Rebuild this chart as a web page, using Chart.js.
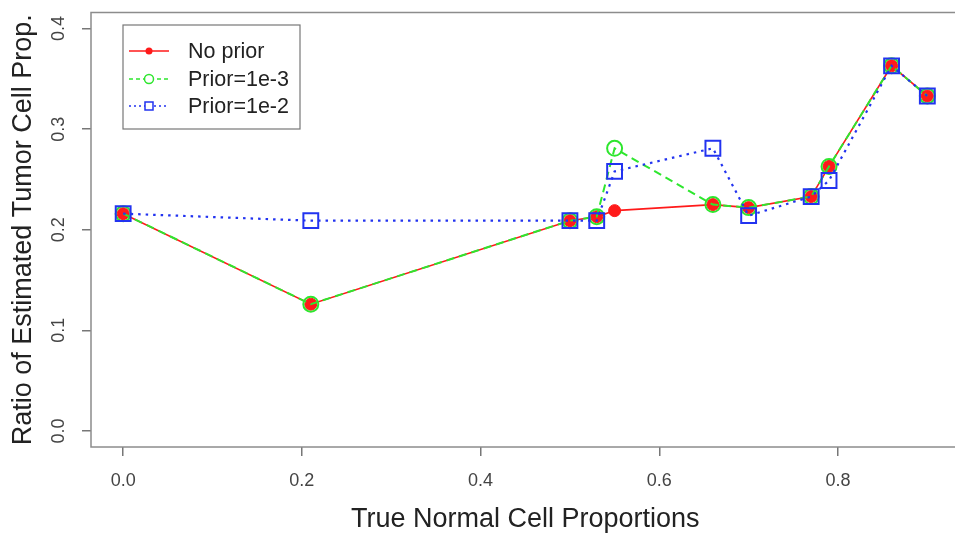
<!DOCTYPE html>
<html>
<head>
<meta charset="utf-8">
<script src="https://cdn.jsdelivr.net/npm/chart.js@4"></script>
<style>
  html, body { margin: 0; padding: 0; background: #fff; overflow: hidden; }
  #wrap { width: 972px; height: 538px; }
</style>
</head>
<body>
<div id="wrap"><canvas id="chart" width="972" height="538"></canvas></div>
<script>
// ======= Data =======
const normalProps = [0, 0.21, 0.5, 0.53, 0.55, 0.66, 0.70, 0.77, 0.79, 0.86, 0.90];
const noPrior     = [0.216, 0.126, 0.209, 0.213, 0.219, 0.225, 0.222, 0.233, 0.263, 0.363, 0.333];
const prior1e3    = [0.216, 0.126, 0.209, 0.213, 0.281, 0.225, 0.222, 0.233, 0.263, 0.363, 0.333];
const prior1e2    = [0.216, 0.209, 0.209, 0.209, 0.258, 0.281, 0.214, 0.233, 0.249, 0.363, 0.333];
const seriesNames = ["No prior", "Prior=1e-3", "Prior=1e-2"];
const xTicks = [0, 0.2, 0.4, 0.6, 0.8];
const yTicks = [0, 0.1, 0.2, 0.3, 0.4];

const RED = "#ff1a1a", GREEN = "#2ee62e", BLUE = "#2233f0";
const FONT = "'Liberation Sans', Arial, Helvetica, sans-serif";

const toPoints = ys => normalProps.map((x, i) => ({ x: x, y: ys[i] }));

// ======= Plugins =======
// box around plot region, rotated y tick labels, legend inside the plot
const rStyle = {
  id: "rStyle",
  beforeDatasetsDraw(chart) {
    const { ctx, chartArea: a } = chart;
    ctx.save();
    ctx.strokeStyle = "#8c8c8c";
    ctx.lineWidth = 1.5;
    ctx.strokeRect(a.left, a.top, a.right - a.left, a.bottom - a.top);
    ctx.restore();
  },
  afterDraw(chart) {
    const { ctx, scales } = chart;
    const y = scales.y;
    ctx.save();
    ctx.fillStyle = "#444";
    ctx.font = "18px " + FONT;
    ctx.textAlign = "center";
    ctx.textBaseline = "middle";
    yTicks.forEach(v => {
      ctx.save();
      ctx.translate(59, y.getPixelForValue(v));
      ctx.rotate(-Math.PI / 2);
      ctx.fillText(v.toFixed(1), 0, 0);
      ctx.restore();
    });

    // legend
    const lx = 123, ly = 25, lw = 177, lh = 104;
    ctx.fillStyle = "#fff";
    ctx.fillRect(lx, ly, lw, lh);
    ctx.strokeStyle = "#777";
    ctx.lineWidth = 1.2;
    ctx.strokeRect(lx, ly, lw, lh);
    const rows = [51, 79, 106];
    const cols = [RED, GREEN, BLUE];
    const dashes = [[], [4, 3], [2, 3]];
    rows.forEach((ry, i) => {
      ctx.strokeStyle = cols[i];
      ctx.lineWidth = 1.3;
      ctx.setLineDash(dashes[i]);
      ctx.beginPath();
      ctx.moveTo(129, ry);
      ctx.lineTo(169, ry);
      ctx.stroke();
      ctx.setLineDash([]);
      if (i === 0) {
        ctx.fillStyle = RED;
        ctx.beginPath();
        ctx.arc(149, ry, 3.5, 0, Math.PI * 2);
        ctx.fill();
      } else if (i === 1) {
        ctx.fillStyle = "#fff";
        ctx.strokeStyle = GREEN;
        ctx.lineWidth = 1.5;
        ctx.beginPath();
        ctx.arc(149, ry, 4.5, 0, Math.PI * 2);
        ctx.fill();
        ctx.stroke();
      } else {
        ctx.fillStyle = "#fff";
        ctx.strokeStyle = BLUE;
        ctx.lineWidth = 1.5;
        ctx.fillRect(145, ry - 4, 8, 8);
        ctx.strokeRect(145, ry - 4, 8, 8);
      }
      ctx.fillStyle = "#222";
      ctx.font = "21.5px " + FONT;
      ctx.textAlign = "left";
      ctx.fillText(seriesNames[i], 188, ry + 1);
    });
    ctx.restore();
  }
};

// ======= Chart =======
const ctx = document.getElementById("chart").getContext("2d");
new Chart(ctx, {
  type: "line",
  data: {
    datasets: [
      {
        label: seriesNames[0], data: toPoints(noPrior), order: 3,
        borderColor: RED, backgroundColor: RED, borderWidth: 1.6,
        pointRadius: 6, pointBorderWidth: 1, pointBackgroundColor: RED, pointBorderColor: RED
      },
      {
        label: seriesNames[1], data: toPoints(prior1e3), order: 2,
        borderColor: GREEN, backgroundColor: "transparent", borderWidth: 2, borderDash: [8, 5],
        pointRadius: 7.5, pointBorderWidth: 2, pointBackgroundColor: "transparent", pointBorderColor: GREEN
      },
      {
        label: seriesNames[2], data: toPoints(prior1e2), order: 1,
        borderColor: BLUE, backgroundColor: "transparent", borderWidth: 2.2, borderDash: [2.5, 5],
        pointStyle: "rect", pointRadius: 10.5, pointBorderWidth: 2,
        pointBackgroundColor: "transparent", pointBorderColor: BLUE
      }
    ]
  },
  options: {
    responsive: false,
    animation: false,
    layout: { padding: { top: 9, right: 10, left: 0, bottom: 0 } },
    plugins: { legend: { display: false }, tooltip: { enabled: false } },
    elements: { line: { tension: 0, fill: false } },
    scales: {
      x: {
        type: "linear", min: -0.036, max: 0.936,
        afterBuildTicks: s => { s.ticks = xTicks.map(v => ({ value: v })); },
        afterFit: s => { s.height = 91; },
        ticks: { color: "#444", font: { size: 18, family: FONT }, padding: 14, maxRotation: 0,
                 callback: v => Number(v).toFixed(1) },
        grid: { drawOnChartArea: false, tickLength: 9, tickColor: "#777", lineWidth: 1.5 },
        border: { display: false },
        title: { display: true, text: "True Normal Cell Proportions", color: "#222",
                 font: { size: 27, family: FONT }, padding: { bottom: 2 } }
      },
      y: {
        type: "linear", min: -0.016, max: 0.416,
        afterBuildTicks: s => { s.ticks = yTicks.map(v => ({ value: v })); },
        afterFit: s => { s.width = 91; },
        ticks: { display: false },
        grid: { drawOnChartArea: false, tickLength: 9, tickColor: "#777", lineWidth: 1.5 },
        border: { display: false },
        title: { display: true, text: "Ratio of Estimated Tumor Cell Prop.", color: "#222",
                 font: { size: 27, family: FONT }, padding: { top: 7 } }
      }
    }
  },
  plugins: [rStyle]
});
</script>
</body>
</html>
